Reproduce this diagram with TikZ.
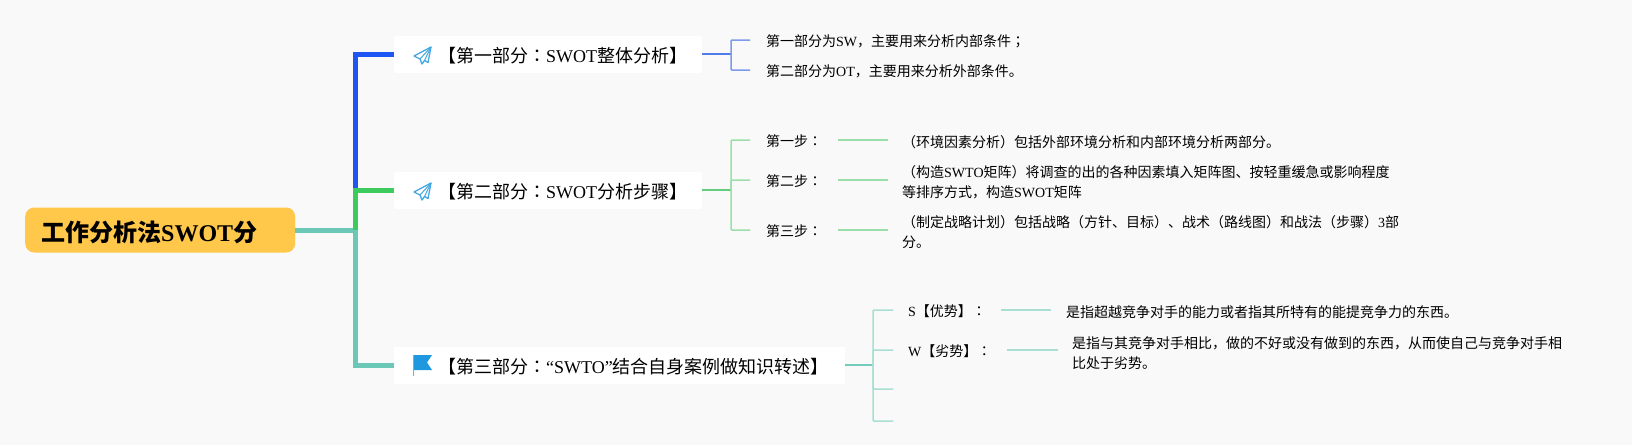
\documentclass[tikz,border=0pt]{standalone}
\usepackage{fontspec}
\setmainfont{Noto Sans CJK SC}
\newfontfamily\latf{Liberation Serif}
\newfontfamily\tcf{Noto Sans CJK TC}
\newcommand{\lat}[1]{{\latf #1}}
\newcommand{\pnc}[1]{{\tcf #1}}
\definecolor{bgc}{HTML}{F9F9F9}
\definecolor{rootc}{HTML}{FFC84A}
\definecolor{bluea}{HTML}{1F55F2}
\definecolor{blueb}{HTML}{4F7CE8}
\definecolor{bluec}{HTML}{7D9BEA}
\definecolor{greena}{HTML}{3CCB5C}
\definecolor{greenb}{HTML}{63CC7E}
\definecolor{greenc}{HTML}{9ADFAA}
\definecolor{teala}{HTML}{6CC8B6}
\definecolor{tealb}{HTML}{74CBBB}
\definecolor{tealc}{HTML}{A9DED2}
\definecolor{iconc}{HTML}{1F98E0}
\definecolor{planec}{HTML}{45A8E0}
\tikzset{
  rootbox/.style={fill=rootc,rounded corners=9pt,inner sep=0pt,text width=270pt,minimum height=45pt,text height=24pt,text depth=2pt,align=left,anchor=west,font=\fontsize{24}{28}\selectfont\bfseries},
  partbox/.style={fill=white,inner sep=0pt,minimum height=37pt,text height=18pt,text depth=1.4pt,align=left,anchor=west,font=\fontsize{18}{21}\selectfont},
  leaf/.style={inner ysep=0pt,inner xsep=16pt,text height=14pt,text depth=1.4pt,anchor=west,font=\fontsize{14}{20}\selectfont},
  detail/.style={inner ysep=0pt,inner xsep=14pt,anchor=west,align=left,font=\fontsize{14}{20}\selectfont},
  trunk/.style={line width=5pt},
  mid/.style={line width=2pt},
  twig/.style={line width=1.5pt,rounded corners=1pt},
  plane/.pic={
    \draw[planec,line width=1.3pt,line join=round] (17,-9) -- (0,0) -- (6,3) -- (8,8) -- (10.5,4.5) -- (14,6.5) -- cycle;
    \draw[planec,line width=1pt,line join=round] (17,-9) -- (6,3);
    \draw[planec,line width=1pt,line join=round] (17,-9) -- (10.5,4.5);
  },
  flagicon/.pic={
    \fill[iconc] (0,0) -- (19,0) -- (14,7.5) -- (19,15) -- (0,15) -- cycle;
    \draw[iconc!70,line width=1pt] (0,0) -- (0,21);
  }
}
\begin{document}
\begin{tikzpicture}[x=1pt,y=-1pt]
\useasboundingbox (0,0) rectangle (1632,445);
\fill[bgc] (0,0) rectangle (1632,445);

\coordinate (j1) at (355,190);
\coordinate (j2) at (355,230);
\coordinate (t1) at (731,54);
\coordinate (t2) at (731,190);
\coordinate (t3) at (873,365);
\coordinate (e3) at (893,389);
\coordinate (e4) at (893,421);

\node[rootbox] (root) at (25,230) {\hspace*{16pt}工作分析法\lat{SWOT}分};
\node[partbox,text width=308pt] (p1) at (394,54) {\hspace*{44pt}【第一部分\pnc{：}\lat{SWOT}整体分析】};
\node[partbox,text width=308pt] (p2) at (394,190) {\hspace*{44pt}【第二部分\pnc{：}\lat{SWOT}分析步骤】};
\node[partbox,text width=451pt] (p3) at (394,365) {\hspace*{44pt}【第三部分\pnc{：}\lat{“SWTO”}结合自身案例做知识转述】};

\draw[trunk,bluea] (p1.west) -| (j1);
\draw[trunk,teala] (root.east) -- (j2);
\draw[trunk,greena] (p2.west) -| (j2);
\draw[trunk,teala] (p3.west) -| (j2);

\pic at (414,56) {plane};
\pic at (414,192) {plane};
\pic at (413,355) {flagicon};

\node[leaf] (a1) at (750,40) {第一部分为\lat{SW}，主要用来分析内部条件\pnc{；}};
\node[leaf] (a2) at (750,70) {第二部分为\lat{OT}，主要用来分析外部条件。};
\draw[mid,blueb] (p1.east) -- (t1);
\draw[twig,bluec] (t1) |- (a1.west);
\draw[twig,bluec] (t1) |- (a2.west);

\node[leaf] (b1) at (750,140) {第一步\pnc{：}};
\node[leaf] (b2) at (750,180) {第二步\pnc{：}};
\node[leaf] (b3) at (750,230) {第三步\pnc{：}};
\draw[mid,greenb] (p2.east) -- (t2);
\draw[twig,greenc] (t2) |- (b1.west);
\draw[twig,greenc] (t2) |- (b2.west);
\draw[twig,greenc] (t2) |- (b3.west);

\node[detail] (d1) at (888,142) {（环境因素分析）包括外部环境分析和内部环境分析两部分。};
\node[detail] (d2) at (888,182) {（构造\lat{SWTO}矩阵）将调查的出的各种因素填入矩阵图、按轻重缓急或影响程度\\等排序方式，构造\lat{SWOT}矩阵};
\node[detail] (d3) at (888,232) {（制定战略计划）包括战略（方针、目标）、战术（路线图）和战法（步骤）\lat{3}部\\分。};
\draw[twig,greenc] (b1.east) -- (d1.west |- b1.east);
\draw[twig,greenc] (b2.east) -- (d2.west |- b2.east);
\draw[twig,greenc] (b3.east) -- (d3.west |- b3.east);

\node[leaf,inner xsep=15pt] (c1) at (893,310) {\lat{S}【优势】\pnc{：}};
\node[leaf,inner xsep=15pt] (c2) at (893,350) {\lat{W}【劣势】\pnc{：}};
\draw[mid,tealb] (p3.east) -- (t3);
\draw[twig,tealc] (t3) |- (c1.west);
\draw[twig,tealc] (t3) |- (c2.west);
\draw[twig,tealc] (t3) |- (e3);
\draw[twig,tealc] (t3) |- (e4);

\node[detail,inner xsep=15pt] (f1) at (1051,312) {是指超越竞争对手的能力或者指其所特有的能提竞争力的东西。};
\node[detail,inner xsep=14pt] (f2) at (1058,353) {是指与其竞争对手相比，做的不好或没有做到的东西，从而使自己与竞争对手相\\比处于劣势。};
\draw[twig,tealc] (c1.east) -- (f1.west |- c1.east);
\draw[twig,tealc] (c2.east) -- (f2.west |- c2.east);
\end{tikzpicture}
\end{document}
